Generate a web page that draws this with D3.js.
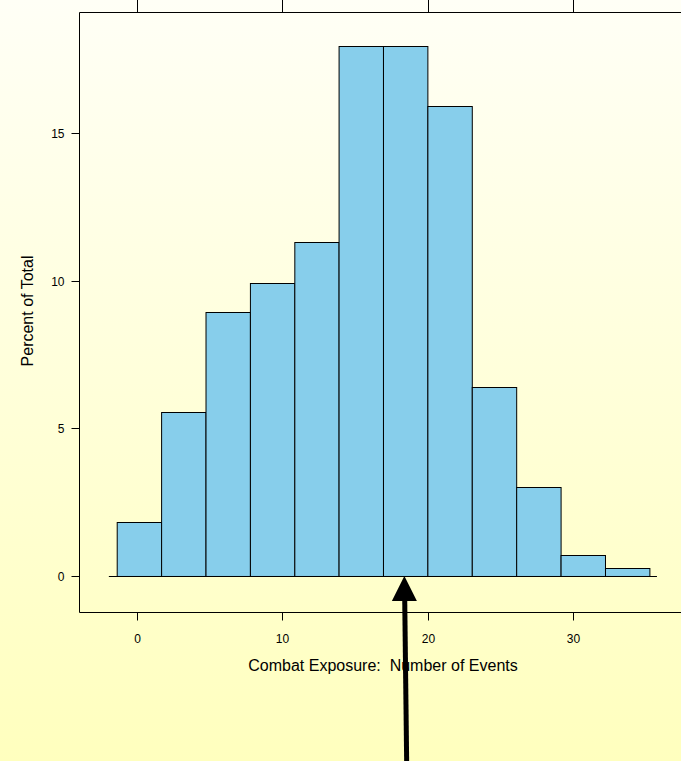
<!DOCTYPE html>
<html>
<head>
<meta charset="utf-8">
<script src="https://cdn.jsdelivr.net/npm/d3@7"></script>
<style>
html,body{margin:0;padding:0;overflow:hidden;}
svg{display:block;}
text{font-family:"Liberation Sans", Arial, sans-serif;fill:#000;white-space:pre;}
</style>
</head>
<body>
<script>
// ---- data ----
const binEdges = [-1.36, 1.69, 4.74, 7.79, 10.84, 13.88, 16.93, 19.98, 23.03, 26.08, 29.13, 32.18, 35.23];
const percents = [1.83, 5.55, 8.94, 9.91, 11.30, 17.95, 17.95, 15.93, 6.40, 3.01, 0.70, 0.26];
const xTicks = [0, 10, 20, 30];
const yTicks = [0, 5, 10, 15];
const xTitle = "Combat Exposure:  Number of Events";
const yTitle = "Percent of Total";
const arrowAt = 18.4;

const W = 681, H = 761;
const svg = d3.select("body").append("svg").attr("width", W).attr("height", H);

const defs = svg.append("defs");
const grad = defs.append("linearGradient").attr("id","bg").attr("x1",0).attr("y1",0).attr("x2",0).attr("y2",1);
grad.append("stop").attr("offset","0%").attr("stop-color","#fffff6");
grad.append("stop").attr("offset","100%").attr("stop-color","#ffffbe");
svg.append("rect").attr("width",W).attr("height",H).attr("fill","url(#bg)");

const x = d3.scaleLinear().domain([-3.95, 38.5]).range([79, 697]);
const y = d3.scaleLinear().domain([-1.22, 19.1]).range([612, 12]);

const bins = percents.map((p,i)=>({x0:binEdges[i], x1:binEdges[i+1], p}));

// bars
svg.append("g").selectAll("rect").data(bins).join("rect")
  .attr("x", d=>x(d.x0)+0.5)
  .attr("y", d=>Math.round(y(d.p))+0.5)
  .attr("width", d=>x(d.x1)-x(d.x0))
  .attr("height", d=>y(0)-Math.round(y(d.p)))
  .attr("fill","#87ceeb")
  .attr("stroke","#000")
  .attr("stroke-width",1);

// baseline
svg.append("line")
  .attr("x1", x(-1.9)).attr("x2", x(35.75))
  .attr("y1", Math.round(y(0))+0.5).attr("y2", Math.round(y(0))+0.5)
  .attr("stroke","#000");

// panel border
const px0 = Math.round(x.range()[0])+0.5, py0 = Math.round(y.range()[1])+0.5, py1 = Math.round(y.range()[0])+0.5;
svg.append("path")
  .attr("d", `M${W+5},${py0}H${px0}V${py1}H${W+5}`)
  .attr("fill","none").attr("stroke","#000");

// bottom axis
const gb = svg.append("g").attr("transform",`translate(0.5,${py1})`);
gb.selectAll("line").data(xTicks).join("line")
  .attr("x1",d=>Math.round(x(d))).attr("x2",d=>Math.round(x(d)))
  .attr("y1",0).attr("y2",8).attr("stroke","#000");
gb.selectAll("text").data(xTicks).join("text")
  .attr("x",d=>Math.round(x(d))).attr("y",30)
  .attr("text-anchor","middle").attr("font-size","12px").text(d=>d);

// top ticks
const gt = svg.append("g").attr("transform",`translate(0.5,${py0})`);
gt.selectAll("line").data(xTicks).join("line")
  .attr("x1",d=>Math.round(x(d))).attr("x2",d=>Math.round(x(d)))
  .attr("y1",0).attr("y2",-13).attr("stroke","#000");

// left axis
const gl = svg.append("g").attr("transform",`translate(${px0},0.5)`);
gl.selectAll("line").data(yTicks).join("line")
  .attr("y1",d=>Math.round(y(d))).attr("y2",d=>Math.round(y(d)))
  .attr("x1",0).attr("x2",-8).attr("stroke","#000");
gl.selectAll("text").data(yTicks).join("text")
  .attr("x",-15).attr("y",d=>Math.round(y(d))+4)
  .attr("text-anchor","end").attr("font-size","12px").text(d=>d);

// titles
svg.append("text").attr("x", 383).attr("y", 671)
  .attr("text-anchor","middle").attr("font-size","16px").text(xTitle);
svg.append("text").attr("transform","translate(33,311) rotate(-90)")
  .attr("text-anchor","middle").attr("font-size","16px").text(yTitle);

// arrow
const tipX = x(arrowAt), tipY = y(0);
svg.append("line")
  .attr("x1", tipX+0.3).attr("y1", tipY+20)
  .attr("x2", tipX+2.3).attr("y2", H+2)
  .attr("stroke","#000").attr("stroke-width",5);
svg.append("path")
  .attr("d", `M${tipX},${tipY}L${tipX+12.5},${tipY+25}L${tipX-12.5},${tipY+25}Z`)
  .attr("fill","#000");
</script>
</body>
</html>
